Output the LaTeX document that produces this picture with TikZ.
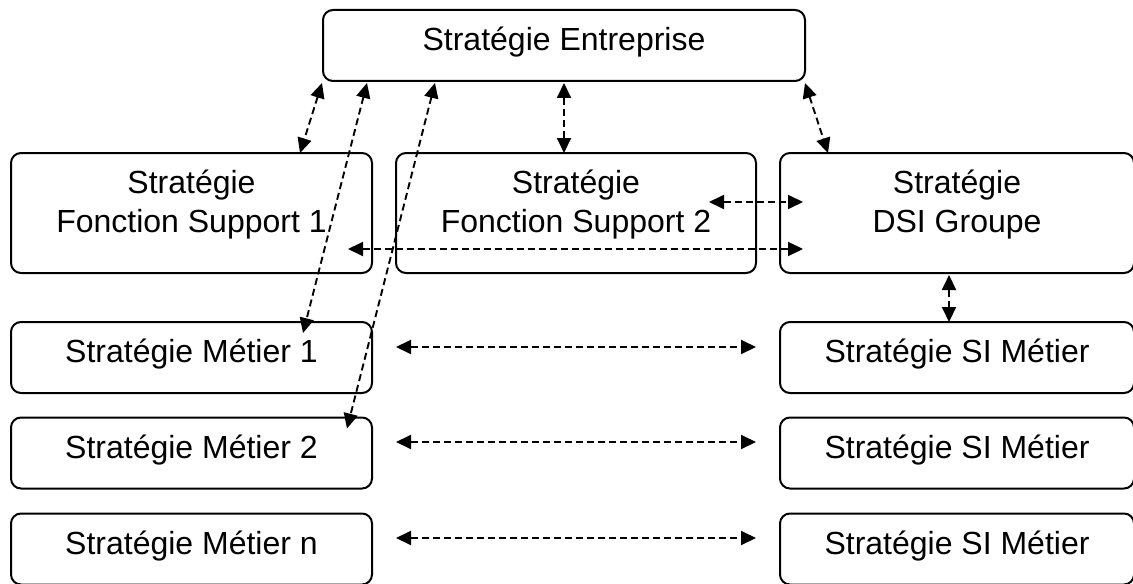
\documentclass[tikz,border=0pt]{standalone}
\usepackage{fontspec}
\setmainfont{Liberation Sans}
\usetikzlibrary{arrows.meta}

\tikzstyle{stratbox} = [draw=black, fill=white, line width=1pt,
    rectangle, inner sep=0pt, outer sep=0pt, rounded corners=5pt,
    align=center, font=\fontsize{16}{19.5}\selectfont]
\tikzstyle{bigbox} = [stratbox, minimum height=60pt, text depth=12pt]
\tikzstyle{rowbox} = [stratbox, minimum height=35.5pt, text height=10pt, text depth=4.8pt]
\tikzstyle{link} = [dashed, dash pattern=on 3.5pt off 2pt, line width=0.95pt,
    >={Triangle[length=7.5pt, width=7pt]}, <->]

\begin{document}
\begin{tikzpicture}[x=0.5pt, y=-0.5pt]
\useasboundingbox (0,0) rectangle (1133,583);

\node [rowbox, minimum width=241pt] (ent) at (564,45.5) {Stratégie Entreprise};

\node [bigbox, minimum width=180.5pt] (fs1) at (191.5,213) {Stratégie\\Fonction Support 1};
\node [bigbox, minimum width=180pt] (fs2) at (576,213) {Stratégie\\Fonction Support 2};
\node [bigbox, minimum width=177pt] (dsi) at (957,213) {Stratégie\\DSI Groupe};

\node [rowbox, minimum width=180.5pt] (m1) at (191.5,357.5) {Stratégie Métier 1};
\node [rowbox, minimum width=180.5pt] (m2) at (191.5,453) {Stratégie Métier 2};
\node [rowbox, minimum width=180.5pt] (mn) at (191.5,549) {Stratégie Métier n};

\node [rowbox, minimum width=177pt] (si1) at (957,357.5) {Stratégie SI Métier};
\node [rowbox, minimum width=177pt] (si2) at (957,453) {Stratégie SI Métier};
\node [rowbox, minimum width=177pt] (sin) at (957,549) {Stratégie SI Métier};

% liens avec la strategie entreprise
\draw [link] ([shift={(-1,2)}]ent.south west) -- ([shift={(-72,0)}]fs1.north east);
\draw [link] ([shift={(44,2)}]ent.south west) -- ([shift={(-69,11)}]m1.north east);
\draw [link] ([shift={(112,2)}]ent.south west) -- ([shift={(-25,11)}]m2.north east);
\draw [link] ([shift={(0,2)}]ent.south) -- ([shift={(-12,0)}]fs2.north);
\draw [link] ([shift={(0,2)}]ent.south east) -- ([shift={(48,0)}]dsi.north west);

% liens entre fonctions support et DSI
\draw [link] ([shift={(-47,-11)}]fs2.east) -- ([shift={(23,-11)}]dsi.west);
\draw [link] ([shift={(-24,36)}]fs1.east) -- ([shift={(23,36)}]dsi.west);
\draw [link] ([shift={(-8,2)}]dsi.south) -- ([shift={(-8,0)}]si1.north);

% metiers et SI metiers
\draw [link] ([shift={(24,-10.5)}]m1.east) -- ([shift={(-24,-10.5)}]si1.west);
\draw [link] ([shift={(24,-11)}]m2.east) -- ([shift={(-24,-11)}]si2.west);
\draw [link] ([shift={(24,-11)}]mn.east) -- ([shift={(-24,-11)}]sin.west);
\end{tikzpicture}
\end{document}
